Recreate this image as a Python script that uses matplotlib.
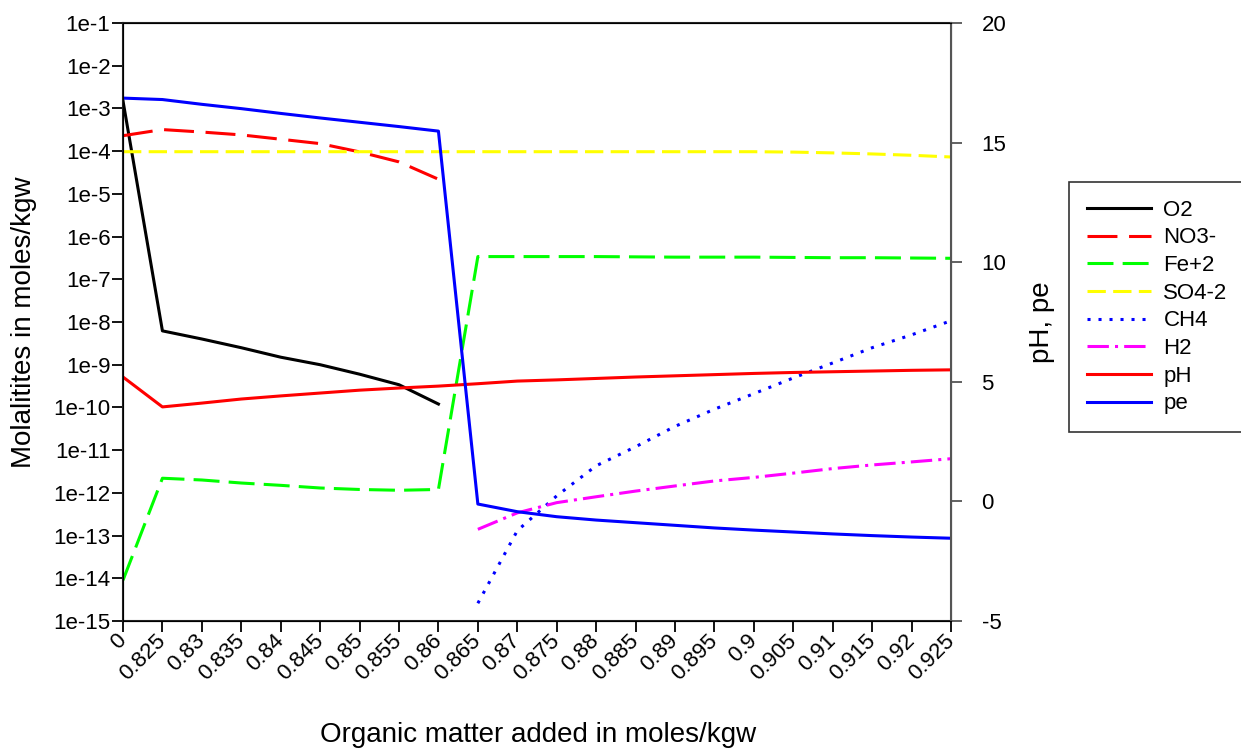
import numpy as np
import matplotlib
matplotlib.use('Agg')
import matplotlib.pyplot as plt
import matplotlib.transforms as mtransforms

plt.rcParams['font.family'] = ['Liberation Sans', 'DejaVu Sans']
plt.rcParams['axes.unicode_minus'] = False

nan = np.nan

x_labels = ['0', '0.825', '0.83', '0.835', '0.84', '0.845', '0.85', '0.855', '0.86',
            '0.865', '0.87', '0.875', '0.88', '0.885', '0.89', '0.895', '0.9',
            '0.905', '0.91', '0.915', '0.92', '0.925']

# molalities (left, log axis)
o2 = [1.5e-3, 6.2e-9, 4.0e-9, 2.5e-9, 1.5e-9, 1.0e-9, 6.0e-10, 3.4e-10, 1.2e-10,
      nan, nan, nan, nan, nan, nan, nan, nan, nan, nan, nan, nan, nan]
no3 = [2.3e-4, 3.2e-4, 2.8e-4, 2.4e-4, 1.9e-4, 1.5e-4, 9.6e-5, 5.6e-5, 2.2e-5,
       nan, nan, nan, nan, nan, nan, nan, nan, nan, nan, nan, nan, nan]
fe2 = [9e-15, 2.2e-12, 2.0e-12, 1.7e-12, 1.5e-12, 1.3e-12, 1.2e-12, 1.15e-12, 1.2e-12,
       3.4e-7, 3.4e-7, 3.4e-7, 3.4e-7, 3.35e-7, 3.3e-7, 3.3e-7, 3.3e-7, 3.25e-7,
       3.2e-7, 3.2e-7, 3.15e-7, 3.1e-7]
so4 = [9.7e-5, 9.7e-5, 9.7e-5, 9.7e-5, 9.7e-5, 9.7e-5, 9.7e-5, 9.7e-5, 9.7e-5,
       9.7e-5, 9.7e-5, 9.7e-5, 9.7e-5, 9.7e-5, 9.7e-5, 9.7e-5, 9.7e-5, 9.5e-5,
       9.1e-5, 8.6e-5, 8.0e-5, 7.3e-5]
ch4 = [nan, nan, nan, nan, nan, nan, nan, nan, nan,
       2.6e-15, 1.3e-13, 8.5e-13, 4.3e-12, 1.2e-11, 3.6e-11, 9.1e-11, 2.1e-10,
       4.9e-10, 1.1e-9, 2.5e-9, 5.0e-9, 1.07e-8]
h2 = [nan, nan, nan, nan, nan, nan, nan, nan, nan,
      1.4e-13, 3.4e-13, 5.9e-13, 8.1e-13, 1.1e-12, 1.45e-12, 1.9e-12, 2.3e-12,
      2.9e-12, 3.7e-12, 4.5e-12, 5.3e-12, 6.3e-12]

# pH and pe (right axis)
ph = [5.2, 3.95, 4.11, 4.28, 4.41, 4.53, 4.65, 4.74, 4.82, 4.92, 5.03, 5.08, 5.14,
      5.2, 5.25, 5.3, 5.35, 5.39, 5.42, 5.45, 5.48, 5.5]
pe = [16.86, 16.8, 16.6, 16.42, 16.22, 16.03, 15.85, 15.67, 15.48, -0.11, -0.43,
      -0.64, -0.78, -0.89, -1.0, -1.11, -1.2, -1.28, -1.36, -1.43, -1.49, -1.54]

x = np.arange(len(x_labels))
lw = 2.2

fig = plt.figure(figsize=(12.41, 7.5), dpi=100)
ax = fig.add_axes([123 / 1241, 129 / 750, 828 / 1241, 598 / 750])
ax2 = ax.twinx()

h = []
h += ax.plot(x, o2, color='black', lw=lw, label='O2')
h += ax.plot(x, no3, color='#ff0000', lw=lw, dashes=(9.8, 3.8), label='NO3-')
h += ax.plot(x, fe2, color='#00ff00', lw=lw, dashes=(8.5, 3), label='Fe+2')
h += ax.plot(x, so4, color='#ffff00', lw=lw, dashes=(6, 2.4), label='SO4-2')
h += ax.plot(x, ch4, color='#0000ff', lw=lw, dashes=(1, 2.6), label='CH4')
h += ax.plot(x, h2, color='#ff00ff', lw=lw, dashes=(7, 2, 1, 2), label='H2')
h += ax2.plot(x, ph, color='#ff0000', lw=lw, label='pH')
h += ax2.plot(x, pe, color='#0000ff', lw=lw, label='pe')

ax.set_yscale('log')
ax.set_ylim(1e-15, 1e-1)
ax.set_yticks([10.0 ** k for k in range(-15, 0)])
ax.set_yticklabels(['1e%d' % k for k in range(-15, 0)])
ax.yaxis.set_minor_locator(matplotlib.ticker.NullLocator())
ax.set_xlim(0, len(x_labels) - 1)
ax.set_xticks(x)
ax.set_xticklabels(x_labels, rotation=45, ha='right', va='center',
                   rotation_mode='anchor')
shift = mtransforms.ScaledTranslation(9 / 100, -6 / 100, fig.dpi_scale_trans)
for lab in ax.get_xticklabels():
    lab.set_transform(lab.get_transform() + shift)

ax2.set_ylim(-5, 20)
ax2.set_yticks([-5, 0, 5, 10, 15, 20])

ax.tick_params(axis='x', direction='out', length=8, width=1.3, labelsize=16, pad=4)
ax.tick_params(axis='y', direction='out', length=8, width=1.3, labelsize=16, pad=1)
ax2.tick_params(axis='y', direction='out', length=8, width=1.3, labelsize=16,
                color='#555555', pad=14)

for s in ['left', 'bottom', 'top']:
    ax.spines[s].set_linewidth(1.5)
    ax.spines[s].set_color('#222222')
ax2.spines['right'].set_color('#555555')
ax2.spines['right'].set_linewidth(1.5)

fig.text(538 / 1241, 15 / 750, 'Organic matter added in moles/kgw', fontsize=20,
         ha='center', va='center')
ax.set_ylabel('Molalitites in moles/kgw', fontsize=20, labelpad=12)
ax2.set_ylabel('pH, pe', fontsize=20, labelpad=16)

leg = fig.legend(handles=h, loc='upper left', bbox_to_anchor=(1069 / 1241, 1 - 182 / 750),
                 fontsize=16, frameon=True, fancybox=False, edgecolor='black',
                 handlelength=2.9, handletextpad=0.55, labelspacing=0.3, borderpad=0.8,
                 borderaxespad=0)
leg.get_frame().set_linewidth(1.2)

fig.savefig('out.png', dpi=100)
